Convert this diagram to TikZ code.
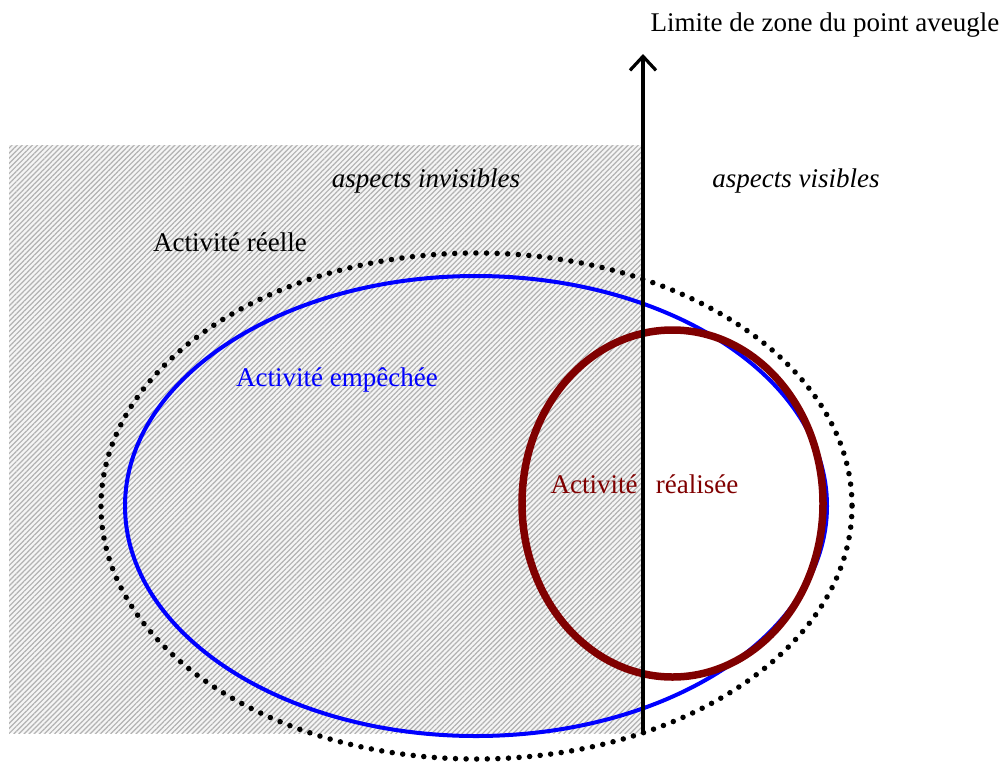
\documentclass[tikz,border=0pt]{standalone}
\usepackage{fontspec}
\setmainfont{Liberation Serif}
\usetikzlibrary{arrows.meta,patterns.meta}
\definecolor{maroonred}{RGB}{128,0,0}
\begin{document}
\begin{tikzpicture}[x=1pt,y=-1pt,
  lbl/.style={font=\fontsize{27}{31}\selectfont, inner sep=0pt, anchor=center},
  hatched/.style={fill=gray!8, postaction={pattern={Lines[angle=45,distance=3.6pt,line width=1.2pt]}, pattern color=gray!60}},
  reelle/.style={line width=5.5pt, line cap=round, dash pattern=on 0pt off 10.6pt},
  empechee/.style={line width=4pt, draw=blue},
  realisee/.style={line width=7.5pt, draw=maroonred},
  limite/.style={line width=3.2pt, -{Straight Barb[length=14pt,width=26pt,line width=3.2pt]}}
]
\useasboundingbox (0,0) rectangle (1000,763);
% hidden zone
\path[hatched] (9,145) rectangle (643,733);
% ellipses
\draw[reelle] (476.5,506) ellipse [x radius=375.5, y radius=253];
\draw[empechee] (476,506) ellipse [x radius=351, y radius=230];
\draw[realisee] (672.5,503.5) ellipse [x radius=150.5, y radius=173.5];
% boundary arrow
\coordinate (base) at (643,732);
\coordinate (tip) at (643,54);
\draw[limite] (base) -- (tip);
% labels
\node[lbl] (tlimite) at (825,25) {Limite de zone du point aveugle};
\node[lbl] (tinv) at (426,181) {\itshape aspects invisibles};
\node[lbl] (tvis) at (796,181) {\itshape aspects visibles};
\node[lbl] (treelle) at (230,242) {Activité réelle};
\node[lbl, text=blue] (temp) at (337,380) {Activité empêchée};
\node[lbl, text=maroonred] (tact) at (594,484) {Activité};
\node[lbl, text=maroonred] (treal) at (697,484) {réalisée};
\end{tikzpicture}
\end{document}
